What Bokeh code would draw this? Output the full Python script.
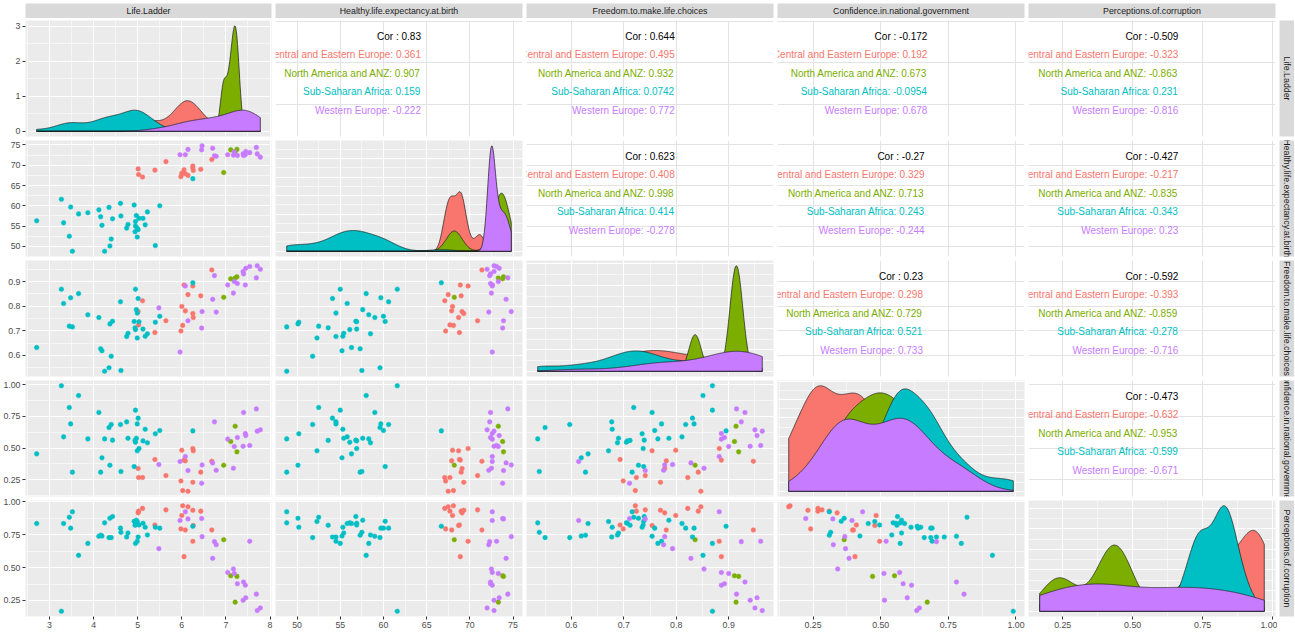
import numpy as np
from bokeh.plotting import figure
from bokeh.layouts import gridplot
from bokeh.models import Range1d, FixedTicker, BasicTicker, NumeralTickFormatter, ColumnDataSource
from bokeh.core.properties import value
from bokeh.embed import file_html
from bokeh.resources import INLINE

# ---------------- data ----------------
variables = ["Life.Ladder", "Healthy.life.expectancy.at.birth", "Freedom.to.make.life.choices",
             "Confidence.in.national.government", "Perceptions.of.corruption"]
regions = ["Central and Eastern Europe", "North America and ANZ", "Sub-Saharan Africa", "Western Europe"]
region_colors = ["#F8766D", "#7CAE00", "#00BFC4", "#C77CFF"]

cee_ladder = [5.01, 5.02, 5.11, 5.39, 5.64, 5.98, 6.00, 6.02, 6.05, 6.08, 6.14, 6.25, 6.25, 6.26, 6.43, 6.68]
cee_healthy = [69.1, 67.7, 67.1, 68.8, 70.9, 67.2, 68.0, 68.1, 68.9, 67.9, 67.5, 69.8, 69.3, 68.7, 69.0, 71.4]
cee_freedom = [.778, .724, .822, .693, .741, .699, .799, .722, .886, .781, .847, .882, .770, .754, .842, .947]
cee_confidence = [.339, .268, .268, .41, .283, .241, .483, .165, .405, .399, .16, .496, .231, .478, .31, .396]
cee_corruption = [.916, .929, .95, .824, .939, .794, .896, .97, .583, .786, .962, .70, .936, .82, .929, .786]

nam_ladder = [6.95, 7.11, 7.21, 7.25]
nam_healthy = [68.2, 73.8, 73.3, 73.9]
nam_freedom = [.836, .911, .914, .919]
nam_confidence = [.365, .551, .672, .47]
nam_corruption = [.712, .438, .237, .433]

ssa_ladder = [2.71, 3.27, 3.32, 3.45, 3.48, 3.52, 3.66, 3.87, 4.12, 4.16, 4.19, 4.25, 4.35, 4.37, 4.40, 4.43,
              4.61, 4.62, 4.75, 4.78, 4.92, 4.94, 4.95, 4.97, 4.95, 4.99, 5.01, 4.99, 5.03, 5.12, 5.17, 5.22,
              5.40, 5.50, 6.25]
ssa_healthy = [56.3, 61.6, 55.8, 52.5, 59.7, 48.8, 58.0, 58.3, 59.0, 57.3, 55.2, 48.8, 59.6, 50.1, 51.8, 56.8,
               60.6, 57.5, 54.5, 55.4, 60.2, 53.6, 56.1, 57.6, 55.0, 54.5, 54.1, 52.3, 56.9, 56.9, 55.3, 58.5,
               50.2, 60.0, 66.7]
ssa_freedom = [.632, .869, .811, .719, .834, .716, .851, .765, .754, .627, .619, .536, .55, .728, .597, .739,
               .818, .539, .677, .69, .738, .712, .705, .786, .869, .772, .831, .671, .737, .707, .678, .688,
               .735, .759, .895]
ssa_confidence = [.454, .99, .588, .819, .69, .31, .913, .572, .78, .31, .423, .572, .661, .365, .685, .562,
                  .685, .315, .706, .577, .354, .56, .546, .577, .798, .69, .735, .478, .496, .556, .648, .541,
                  .612, .638, .635]
ssa_corruption = [.835, .168, .835, .883, .80, .924, .593, .684, .738, .746, .74, .84, .728, .875, .728, .888,
                  .80, .768, .733, .763, .852, .822, .84, .86, .684, .70, .733, .85, .824, .837, .807, .748,
                  .807, .80, .814]

we_ladder = [5.48, 5.96, 6.08, 6.14, 6.45, 6.46, 6.70, 6.74, 6.78, 7.04, 7.17, 7.19, 7.26, 7.39, 7.40, 7.44,
             7.45, 7.54, 7.69, 7.71, 7.78]
we_healthy = [float("nan"), 72.6, 72.6, 73.9, 73.8, 74.8, 74.2, 72.3, 72.2, 72.6, 72.5, 73.3, 72.4, 72.8, 72.4,
              72.6, 73.4, 73.1, 74.4, 72.8, 72.0]
we_freedom = [.793, .614, .882, .741, .711, .778, .828, .924, .776, .886, .853, .900, .892, .941, .931, .886,
              .954, .961, .915, .964, .950]
we_confidence = [.37, .394, .433, .323, .223, .367, .383, .706, .325, .57, .341, .512, .583, .514, .78, .614,
                 .598, .52, .808, .633, .643]
we_corruption = [.644, .858, .924, .87, .873, .735, .57, .697, .674, .463, .489, .455, .377, .252, .39, .366,
                 .27, .70, .298, .173, .193]

# correlation labels (upper panels, row var index, col var index)
cor_pairs = [(0, 1), (0, 2), (0, 3), (0, 4), (1, 2), (1, 3), (1, 4), (2, 3), (2, 4), (3, 4)]
cor_overall = ["0.83", "0.644", "-0.172", "-0.509", "0.623", "-0.27", "-0.427", "0.23", "-0.592", "-0.473"]
cor_cee = ["0.361", "0.495", "0.192", "-0.323", "0.408", "0.329", "-0.217", "0.298", "-0.393", "-0.632"]
cor_nam = ["0.907", "0.932", "0.673", "-0.863", "0.998", "0.713", "-0.835", "0.729", "-0.859", "-0.953"]
cor_ssa = ["0.159", "0.0742", "-0.0954", "0.231", "0.414", "0.243", "-0.343", "0.521", "-0.278", "-0.599"]
cor_we = ["-0.222", "0.772", "0.678", "-0.816", "-0.278", "-0.244", "0.23", "0.733", "-0.716", "-0.671"]

# tick marks
ladder_ticks = [3, 4, 5, 6, 7, 8]
healthy_ticks = [50, 55, 60, 65, 70, 75]
freedom_ticks = [0.6, 0.7, 0.8, 0.9]
confidence_ticks = [0.25, 0.50, 0.75, 1.00]
corruption_ticks = [0.25, 0.50, 0.75, 1.00]
density_ticks = [0, 1, 2, 3]
upper_ladder_ticks = [4, 6, 8]

# ---------------- assembly ----------------
region_data = [
    [cee_ladder, cee_healthy, cee_freedom, cee_confidence, cee_corruption],
    [nam_ladder, nam_healthy, nam_freedom, nam_confidence, nam_corruption],
    [ssa_ladder, ssa_healthy, ssa_freedom, ssa_confidence, ssa_corruption],
    [we_ladder, we_healthy, we_freedom, we_confidence, we_corruption],
]
region_data = [[np.array(col, dtype=float) for col in reg] for reg in region_data]
var_ticks = [ladder_ticks, healthy_ticks, freedom_ticks, confidence_ticks, corruption_ticks]
var_formats = ["0", "0", "0.0", "0.00", "0.00"]


def minor_of(ticks):
    t = list(ticks)
    step = t[1] - t[0]
    return [t[0] - step / 2] + [a + step / 2 for a in t]


def var_range(i):
    vals = np.concatenate([reg[i] for reg in region_data])
    vals = vals[~np.isnan(vals)]
    lo, hi = vals.min(), vals.max()
    return lo, hi


def expanded(lo, hi):
    pad = 0.05 * (hi - lo)
    return lo - pad, hi + pad


def kde(vals, grid):
    v = vals[~np.isnan(vals)]
    n = len(v)
    sd = v.std(ddof=1)
    q75, q25 = np.percentile(v, [75, 25])
    lo = min(sd, (q75 - q25) / 1.34)
    if lo <= 0:
        lo = sd if sd > 0 else 1.0
    bw = 0.9 * lo * n ** -0.2
    z = (grid[:, None] - v[None, :]) / bw
    return np.exp(-0.5 * z * z).sum(axis=1) / (n * bw * np.sqrt(2 * np.pi))


AW = {'C': .722, 'o': .556, 'r': .333, ' ': .278, ':': .278, '-': .333, '.': .278}


def text_w(s, px):
    return sum(AW.get(ch, .556) for ch in s) * px


FW, FH = 247, 116
LEFT, BOTTOM = 24, 17
FONT = "Liberation Sans"
GREY_BG = "#EBEBEB"


def style_axis(ax, ticks, minor, fmt):
    ax.ticker = FixedTicker(ticks=ticks, minor_ticks=minor)
    ax.formatter = NumeralTickFormatter(format=fmt)
    ax.major_label_text_font = FONT
    ax.major_label_text_font_size = "8.8px"
    ax.major_label_text_color = "#4D4D4D"
    ax.major_tick_line_color = "#333333"
    ax.major_tick_out = 3
    ax.major_tick_in = 0
    ax.minor_tick_line_color = None
    ax.axis_line_color = None
    ax.major_label_standoff = 2


rows = []
# top strip row
strip_row = []
for c in range(5):
    bl = LEFT if c == 0 else 2
    s = figure(width=bl + FW + 2, height=18, x_range=Range1d(0, 1), y_range=Range1d(0, 1),
               x_axis_location=None, y_axis_location=None, toolbar_location=None,
               output_backend="svg", title=None, min_border_left=bl, min_border_right=2,
               min_border_top=3, min_border_bottom=0, background_fill_color="#D9D9D9",
               outline_line_color=None)
    s.grid.visible = False
    s.text(x=[0.5], y=[0.5], text=[variables[c]], text_align="center", text_baseline="middle",
           text_font=value(FONT), text_font_size="8.8px", text_color="#1A1A1A")
    strip_row.append(s)
strip_row.append(None)
rows.append(strip_row)

for r in range(5):
    row = []
    bb = BOTTOM if r == 4 else 2
    for c in range(5):
        bl = LEFT if c == 0 else 2
        xlo, xhi = var_range(c)
        xr = Range1d(*expanded(xlo, xhi))
        if r == c:
            grid = np.linspace(xlo, xhi, 512)
            dens = [kde(reg[c], grid) for reg in region_data]
            dmax = max(d.max() for d in dens)
            yr = Range1d(-0.05 * dmax, 1.05 * dmax)
        else:
            ylo, yhi = var_range(r)
            yr = Range1d(*expanded(ylo, yhi))
        upper = r < c
        p = figure(width=bl + FW + 2, height=2 + FH + bb, x_range=xr, y_range=yr,
                   x_axis_location="below" if r == 4 else None,
                   y_axis_location="left" if c == 0 else None,
                   toolbar_location=None, output_backend="svg", title=None,
                   min_border_left=bl, min_border_right=2, min_border_top=2, min_border_bottom=bb,
                   background_fill_color="white" if upper else GREY_BG, outline_line_color=None)
        # grids
        xt = var_ticks[c]
        p.xgrid.ticker = FixedTicker(ticks=xt, minor_ticks=[] if upper else minor_of(xt))
        if r == c:
            if r == 0:
                p.ygrid.ticker = FixedTicker(ticks=density_ticks, minor_ticks=minor_of(density_ticks))
            else:
                p.ygrid.ticker = BasicTicker(desired_num_ticks=5, num_minor_ticks=2)
        else:
            if upper:
                yt = upper_ladder_ticks if r == 0 else var_ticks[r]
                p.ygrid.ticker = FixedTicker(ticks=yt, minor_ticks=[])
            else:
                yt = var_ticks[r]
                p.ygrid.ticker = FixedTicker(ticks=yt, minor_ticks=minor_of(yt))
        if upper:
            p.grid.grid_line_color = "#E3E3E3"
            p.grid.grid_line_width = 1
            p.grid.minor_grid_line_color = None
        else:
            p.grid.grid_line_color = "white"
            p.grid.grid_line_width = 1.1
            p.grid.minor_grid_line_color = "white"
            p.grid.minor_grid_line_width = 0.55
        # axes
        if r == 4:
            style_axis(p.xaxis[0], var_ticks[c], [], var_formats[c])
        if c == 0:
            if r == 0:
                style_axis(p.yaxis[0], density_ticks, [], "0")
            else:
                style_axis(p.yaxis[0], var_ticks[r], [], var_formats[r])
        # content
        if r == c:
            for reg_i, d in enumerate(dens):
                px = np.concatenate([[grid[0]], grid, [grid[-1]]])
                py = np.concatenate([[0.0], d, [0.0]])
                p.patch(px, py, fill_color=region_colors[reg_i], fill_alpha=1.0,
                        line_color="#1A1A1A", line_width=0.7)
        elif r > c:
            for reg_i, reg in enumerate(region_data):
                xv, yv = reg[c], reg[r]
                ok = ~(np.isnan(xv) | np.isnan(yv))
                p.scatter(xv[ok], yv[ok], size=4.6, fill_color=region_colors[reg_i],
                          line_color=region_colors[reg_i], line_width=0.5)
        else:
            k = cor_pairs.index((r, c))
            ylo, yhi = var_range(r)
            cx = (xr.start + xr.end) / 2
            fr = [0.9, 0.725, 0.55, 0.375, 0.2]
            ys = [ylo + f * (yhi - ylo) for f in fr]
            title_txt = "Cor : " + cor_overall[k]
            p.text(x=[cx], y=[ys[0]], text=[title_txt], text_align="center", text_baseline="middle",
                   text_font=value(FONT), text_font_size="10px", text_color="black")
            vals = [cor_cee[k], cor_nam[k], cor_ssa[k], cor_we[k]]
            src = ColumnDataSource(dict(x=[cx] * 4, y=ys[1:],
                                        t=[f"{regions[i]}: {vals[i]}" for i in range(4)],
                                        col=region_colors))
            p.text(x="x", y="y", text="t", source=src, text_align="right", text_baseline="middle",
                   x_offset=text_w(title_txt, 10) / 2, text_font=value(FONT), text_font_size="10px",
                   text_color="col")
        row.append(p)
    # right strip
    s = figure(width=17, height=2 + FH + bb, x_range=Range1d(0, 1), y_range=Range1d(0, 1),
               x_axis_location=None, y_axis_location=None, toolbar_location=None,
               output_backend="svg", title=None, min_border_left=2, min_border_right=0,
               min_border_top=2, min_border_bottom=bb, background_fill_color="#D9D9D9",
               outline_line_color=None)
    s.grid.visible = False
    s.text(x=[0.5], y=[0.5], text=[variables[r]], angle=-np.pi / 2, text_align="center",
           text_baseline="middle", text_font=value(FONT), text_font_size="8.8px", text_color="#1A1A1A")
    row.append(s)
    rows.append(row)

layout = gridplot(rows, toolbar_location=None)
open("out.html", "w").write(file_html(layout, INLINE))
